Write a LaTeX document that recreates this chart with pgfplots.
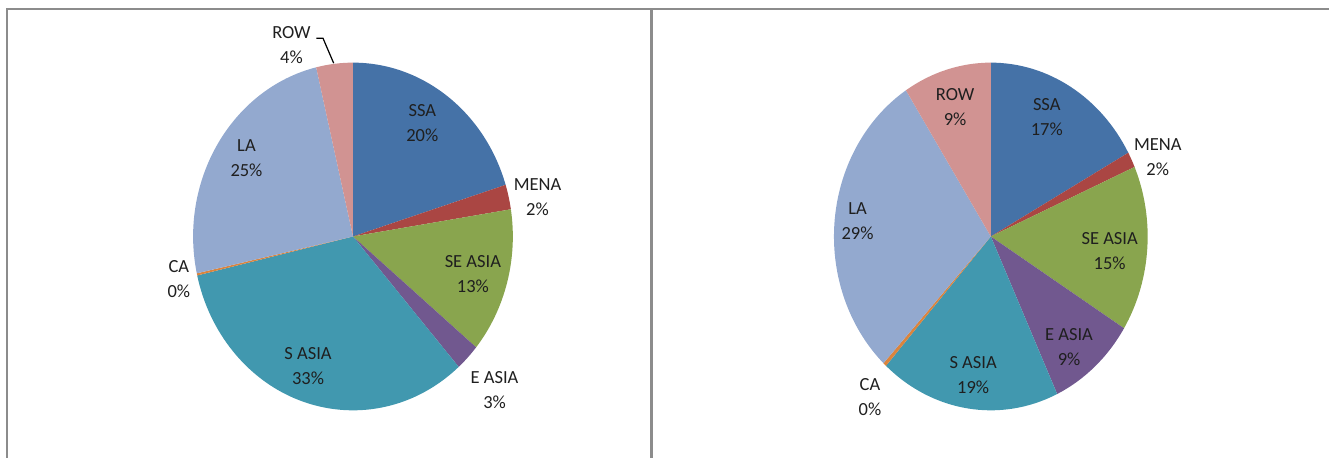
\documentclass[border=0pt]{standalone}
\usepackage{pgfplots}
\pgfplotsset{compat=1.18}
\usepackage{pgfplotstable}
\usepackage{fontspec}
\setmainfont{Carlito}
\definecolor{cSSA}{HTML}{4572A7}
\definecolor{cMENA}{HTML}{AA4643}
\definecolor{cSEA}{HTML}{89A54E}
\definecolor{cEA}{HTML}{71588F}
\definecolor{cSA}{HTML}{4198AF}
\definecolor{cCA}{HTML}{DB843D}
\definecolor{cLA}{HTML}{93A9CF}
\definecolor{cROW}{HTML}{D19392}
\definecolor{frame}{HTML}{8C8C8C}
\definecolor{txt}{HTML}{1F1F1F}

\tikzset{lbl/.style={font=\fontsize{9.25}{12.5}\selectfont, text=txt, align=center, inner sep=0pt}}

\pgfplotstableread{
name pct col
SSA 20.2 cSSA
MENA 2.3 cMENA
SEASIA 13.5 cSEA
EASIA 2.5 cEA
SASIA 32.9 cSA
CA 0.2 cCA
LA 24.7 cLA
ROW 3.7 cROW
}\leftdata

\pgfplotstableread{
name pct col
SSA 17.0 cSSA
MENA 1.45 cMENA
SEASIA 15.4 cSEA
EASIA 9.2 cEA
SASIA 18.6 cSA
CA 0.35 cCA
LA 28.9 cLA
ROW 9.1 cROW
}\rightdata

% #1 table, #2 cx, #3 cy, #4 rx, #5 ry
\newcommand\drawpie[5]{%
  \pgfmathsetmacro\startang{90}%
  \pgfplotsforeachungrouped \i in {0,...,7}{%
    \pgfplotstablegetelem{\i}{pct}\of{#1}\let\pct\pgfplotsretval
    \pgfplotstablegetelem{\i}{col}\of{#1}\let\col\pgfplotsretval
    \pgfmathsetmacro\endang{\startang-3.6*\pct}%
    \edef\temp{\noexpand\fill[\col] (axis cs:#2,#3) -- ++(\startang:#4 and #5) arc[start angle=\startang, end angle=\endang, x radius=#4, y radius=#5] -- cycle;}%
    \temp
    \global\let\startang\endang
  }%
}

\begin{document}
\begin{tikzpicture}
\begin{axis}[
  hide axis, x=0.5pt, y=0.5pt,
  xmin=0, xmax=1330, ymin=0, ymax=458,
  scale only axis, clip=false,
]
\path (axis cs:0,0) rectangle (axis cs:1330,458);
% frame
\draw[frame, line width=1.2pt] (axis cs:7,0) -- (axis cs:7,449) -- (axis cs:1330,449);
\draw[frame, line width=1.2pt] (axis cs:652,449) -- (axis cs:652,0);

\drawpie{\leftdata}{353.3}{221.3}{80pt}{87pt}
\drawpie{\rightdata}{991.7}{221.3}{78.5pt}{87pt}

% left labels
\node[lbl] at (axis cs:291.7,413) {ROW\\4\%};
\draw[black, line width=0.6pt] (axis cs:316.7,419.7) -- (axis cs:323.3,419.7) -- (axis cs:334,394.7);
\node[lbl] at (axis cs:422.7,334.7) {SSA\\20\%};
\node[lbl] at (axis cs:538,260.5) {MENA\\2\%};
\node[lbl] at (axis cs:473.3,184) {SE ASIA\\13\%};
\node[lbl] at (axis cs:495,68) {E ASIA\\3\%};
\node[lbl] at (axis cs:308.3,91.3) {S ASIA\\33\%};
\node[lbl] at (axis cs:179,178.8) {CA\\0\%};
\node[lbl] at (axis cs:246.7,299.7) {LA\\25\%};

% right labels
\node[lbl] at (axis cs:956,350.5) {ROW\\9\%};
\node[lbl] at (axis cs:1047.7,340.8) {SSA\\17\%};
\node[lbl] at (axis cs:1158.8,300.5) {MENA\\2\%};
\node[lbl] at (axis cs:1110.7,206.3) {SE ASIA\\15\%};
\node[lbl] at (axis cs:1070,110.5) {E ASIA\\9\%};
\node[lbl] at (axis cs:974,82.5) {S ASIA\\19\%};
\node[lbl] at (axis cs:870.7,60.5) {CA\\0\%};
\node[lbl] at (axis cs:858.3,236.7) {LA\\29\%};
\end{axis}
\end{tikzpicture}
\end{document}
